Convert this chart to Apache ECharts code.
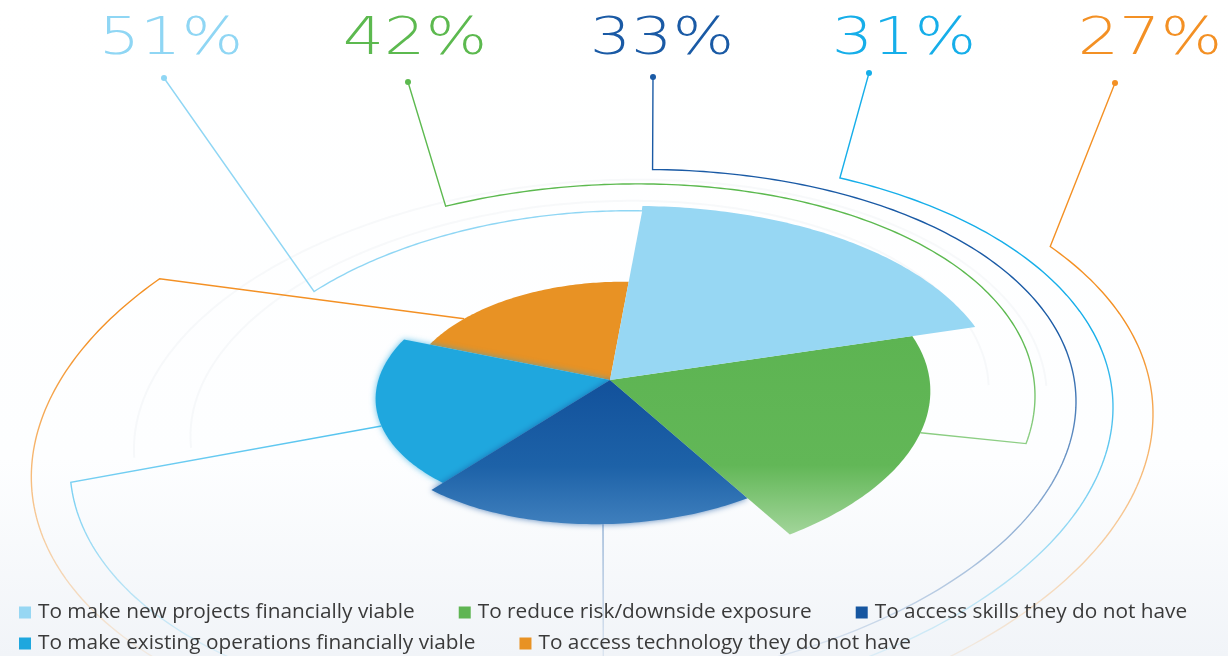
<!DOCTYPE html>
<html><head><meta charset="utf-8">
<script src="https://cdn.jsdelivr.net/npm/echarts@6/dist/echarts.min.js"></script>
<style>html,body{margin:0;padding:0;background:#fff}#c{width:1228px;height:656px}</style>
</head><body><div id="c"></div>
<script>
// ---- data ----
const categories = [
  'To make new projects financially viable',
  'To reduce risk/downside exposure',
  'To access skills they do not have',
  'To make existing operations financially viable',
  'To access technology they do not have'
];
const values = [51, 42, 33, 31, 27];
const percentLabels = ['51%', '42%', '33%', '31%', '27%'];
const sliceColors = ['#97d7f3', '#5fb553', '#1656a0', '#1fa7de', '#e89224'];
const labelColors = ['#8fd6f4', '#5cb94f', '#1a5aa5', '#16aee9', '#f39024'];

// ---- projection (tilted disk) ----
const CX = 610, CY = 380, S = 0.52, A = 0.0004;
const ACX = 587;             // centre of the decorative arcs
const ROT_S = -2.5, ROT_A = -4.5;
const START = 83, STEP = 360 / values.length;
const K = 385 / Math.max(...values);
function projC(cx, r, deg, rot) {
  const t = deg * Math.PI / 180, u = r * Math.cos(t), v = r * Math.sin(t);
  const p = 1 / (1 + A * v);
  const dx = u * p, dy = -v * S * p;
  const q = rot * Math.PI / 180, c = Math.cos(q), s = Math.sin(q);
  return [cx + dx * c - dy * s, CY + dx * s + dy * c];
}
function proj(r, deg) { return projC(CX, r, deg, ROT_S); }
function projA(r, deg) { return projC(ACX, r, deg, ROT_A); }
function arcOf(f, r, a0, a1, n) {
  const pts = [];
  n = n || 120;
  for (let k = 0; k <= n; k++) pts.push(f(r, a0 + (a1 - a0) * k / n));
  return pts;
}
function nearest(f, r, target, lo, hi) {
  let best = lo, bd = Infinity;
  for (let a = lo; a <= hi; a += 0.25) {
    const p = f(r, a), d = (p[0] - target[0]) ** 2 + (p[1] - target[1]) ** 2;
    if (d < bd) { bd = d; best = a; }
  }
  return best;
}
function radiusForRight(xr) {
  let lo = 200, hi = 800;
  for (let it = 0; it < 40; it++) {
    const m = (lo + hi) / 2;
    let mx = -Infinity;
    for (let a = -90; a <= 90; a += 0.5) mx = Math.max(mx, projA(m, a)[0]);
    if (mx > xr) hi = m; else lo = m;
  }
  return (lo + hi) / 2;
}
function radiusThrough(target, lo, hi) {
  let best = lo, bd = Infinity;
  for (let r = lo; r <= hi; r += 1) {
    const a = nearest(projA, r, target, 90, 200), p = projA(r, a);
    const d = (p[0] - target[0]) ** 2 + (p[1] - target[1]) ** 2;
    if (d < bd) { bd = d; best = r; }
  }
  return best;
}

const G = echarts.graphic;
function fills(i) {
  if (i === 1) return new G.LinearGradient(0, 0, 0, 1, [
    {offset: 0, color: '#5db452'}, {offset: 0.65, color: '#62b757'}, {offset: 1, color: '#a2d59a'}]);
  if (i === 2) return new G.LinearGradient(0, 0, 0, 1, [
    {offset: 0, color: '#12519b'}, {offset: 0.6, color: '#1d62a8'}, {offset: 1, color: '#3f7fbd'}]);
  return sliceColors[i];
}

const series = values.map((v, i) => ({
  name: categories[i],
  type: 'custom',
  coordinateSystem: 'none',
  itemStyle: {color: sliceColors[i]},
  z: [6, 5, 4, 3, 2][i],
  data: [[v]],
  renderItem: function (params, api) {
    const r = api.value(0) * K;
    const a0 = START - i * STEP, a1 = a0 - STEP;
    const pts = [[CX, CY]].concat(arcOf(proj, r, a0, a1, 80));
    const blur = (i === 2 || i === 3);
    return {
      type: 'polygon',
      shape: {points: pts},
      style: {
        fill: fills(i),
        shadowBlur: blur ? 6 : 0,
        shadowColor: blur ? (i === 2 ? 'rgba(22,86,160,0.7)' : 'rgba(31,167,222,0.7)') : 'transparent'
      }
    };
  }
}));

// ---- decorative connector lines ----
const labelX = [171, 415, 662, 904, 1150];
const dots = [[164, 78], [408, 82], [653, 77], [869, 73], [1115, 83]];
function fadeStroke(c) {
  return new G.LinearGradient(0, 330, 0, 656, [
    {offset: 0, color: c}, {offset: 1, color: echarts.color.modifyAlpha(c, 0.1)}], true);
}
const R = values.map(v => v * K);
function sliceRange(i) { const a0 = START - i * STEP; return [a0 - STEP, a0]; }
function slicePoint(i, target, shift) {
  const rg = sliceRange(i), sh = shift || 0;
  const a = nearest(proj, R[i], target, rg[0] + sh, rg[1] + sh);
  return proj(R[i], a);
}
const connectors = [];
// 51%
(function () {
  const r = radiusThrough([314, 291], 340, 480);
  const a0 = nearest(projA, r, [314, 291], 90, 200);
  const tip = proj(R[0], START);
  const a1 = nearest(projA, r, tip, 40, a0);
  connectors.push([dots[0]].concat(arcOf(projA, r, a0, a1, 80)).concat([tip]));
})();
// 42%
(function () {
  const r = radiusForRight(1035);
  const a0 = nearest(projA, r, [448, 215], 60, 200);
  const a1 = nearest(projA, r, [1030, 445], -90, 30);
  connectors.push([dots[1]].concat(arcOf(projA, r, a0, a1, 140)).concat([slicePoint(1, [915, 430])]));
})();
// 33%
(function () {
  const r = radiusForRight(1076);
  const a0 = nearest(projA, r, [653, 177], 30, 150);
  const a1 = nearest(projA, r, [600, 640], -150, -30);
  const end = projA(r, a1);
  const sp = slicePoint(2, [end[0], 520]);
  connectors.push([dots[2]].concat(arcOf(projA, r, a0, a1, 160)).concat([sp]));
})();
// 31%
(function () {
  const r = radiusForRight(1113);
  const a0 = nearest(projA, r, [840, 180], 0, 120);
  const a1 = nearest(projA, r, [75, 482], -250, -90);
  connectors.push([dots[3]].concat(arcOf(projA, r, a0, a1, 220)).concat([slicePoint(3, [372, 430], 0)]));
})();
// 27%
(function () {
  const r = radiusForRight(1153);
  const a0 = nearest(projA, r, [1050, 247], -30, 90);
  const a1 = nearest(projA, r, [165, 287], -260, -150);
  connectors.push([dots[4]].concat(arcOf(projA, r, a0, a1, 240)).concat([slicePoint(4, [465, 320], -360)]));
})();

const graphic = [];
connectors.forEach((pts, i) => {
  graphic.push({type: 'polyline', z: 1, shape: {points: pts},
    style: {stroke: fadeStroke(labelColors[i]), lineWidth: 1.4, fill: null}});
  graphic.push({type: 'circle', z: 1, shape: {cx: dots[i][0], cy: dots[i][1], r: 3},
    style: {fill: labelColors[i]}});
  graphic.push({type: 'text', z: 3, x: labelX[i], y: 40, scaleX: 1.25,
    style: {text: percentLabels[i], fill: labelColors[i], fontSize: 52, fontWeight: 200,
      fontFamily: 'DejaVu Sans', align: 'center', verticalAlign: 'middle'}});
});
// faint rings
[395, 450].forEach(r => graphic.push({type: 'polyline', z: 0, shape: {points: arcOf(projA, r, -10, 190, 200)},
  style: {stroke: 'rgba(120,130,150,0.05)', lineWidth: 2, fill: null}}));

const legendBase = {
  icon: 'rect', itemWidth: 12, itemHeight: 12, itemGap: 44, left: 14, orient: 'horizontal',
  selectedMode: false,
  textStyle: {fontFamily: 'Open Sans', fontSize: 20.8, color: '#3a3a3a', padding: [0, 0, 0, 2]}
};

const chart = echarts.init(document.getElementById('c'), null, {renderer: 'canvas'});
chart.setOption({
  animation: false,
  backgroundColor: new G.LinearGradient(0, 0, 0, 1, [
    {offset: 0, color: '#ffffff'}, {offset: 0.7, color: '#fdfeff'}, {offset: 1, color: '#f1f4f8'}]),
  legend: [
    Object.assign({}, legendBase, {data: categories.slice(0, 3), top: 597}),
    Object.assign({}, legendBase, {data: categories.slice(3), top: 628})
  ],
  graphic: graphic,
  series: series
});
</script></body></html>
